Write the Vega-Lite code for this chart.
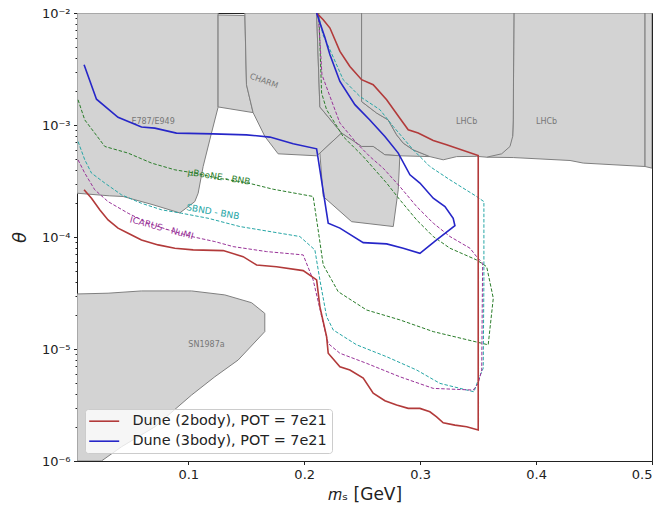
{
  "$schema": "https://vega.github.io/schema/vega-lite/v6.json",
  "autosize": "none",
  "width": 575,
  "height": 448,
  "padding": {"left": 77, "top": 13, "right": 12, "bottom": 46},
  "background": "white",
  "config": {
    "font": "DejaVu Sans",
    "view": {"stroke": "#222", "strokeWidth": 1},
    "axis": {"grid": false, "domainColor": "#222", "tickColor": "#222", "labelColor": "#222", "titleColor": "#222", "labelFont": "DejaVu Sans", "titleFont": "DejaVu Sans", "titleFontWeight": "normal", "labelFontSize": 13, "tickSize": 3.5, "labelPadding": 3.5}
  },
  "datasets": {
    "regions": [
      {"g":"E787","i":0,"x":0.004,"y":0.01},{"g":"E787","i":1,"x":0.1257,"y":0.01},{"g":"E787","i":2,"x":0.1257,"y":0.00144},{"g":"E787","i":3,"x":0.12,"y":0.000847},{"g":"E787","i":4,"x":0.1128,"y":0.000426},{"g":"E787","i":5,"x":0.1085,"y":0.000246},{"g":"E787","i":6,"x":0.1056,"y":0.000207},{"g":"E787","i":7,"x":0.0927,"y":0.000164},{"g":"E787","i":8,"x":0.0696,"y":0.000194},{"g":"E787","i":9,"x":0.0438,"y":0.00023},{"g":"E787","i":10,"x":0.0323,"y":0.000233},{"g":"E787","i":11,"x":0.004,"y":0.000246},{"g":"E787","i":12,"x":0.004,"y":0.01},
      {"g":"CH1","i":0,"x":0.1257,"y":0.0096},{"g":"CH1","i":1,"x":0.1488,"y":0.0095},{"g":"CH1","i":2,"x":0.1502,"y":0.00229},{"g":"CH1","i":3,"x":0.1559,"y":0.00129},{"g":"CH1","i":4,"x":0.1257,"y":0.00145},{"g":"CH1","i":5,"x":0.1257,"y":0.0096},
      {"g":"CH2","i":0,"x":0.1488,"y":0.01},{"g":"CH2","i":1,"x":0.2107,"y":0.01},{"g":"CH2","i":2,"x":0.2135,"y":0.00145},{"g":"CH2","i":3,"x":0.2322,"y":0.000847},{"g":"CH2","i":4,"x":0.2135,"y":0.000561},{"g":"CH2","i":5,"x":0.2107,"y":0.000531},{"g":"CH2","i":6,"x":0.1775,"y":0.000553},{"g":"CH2","i":7,"x":0.1661,"y":0.000789},{"g":"CH2","i":8,"x":0.1559,"y":0.00129},{"g":"CH2","i":9,"x":0.1502,"y":0.00229},{"g":"CH2","i":10,"x":0.1488,"y":0.01},
      {"g":"LH2","i":0,"x":0.3809,"y":0.01},{"g":"LH2","i":1,"x":0.494,"y":0.01},{"g":"LH2","i":2,"x":0.494,"y":0.000426},{"g":"LH2","i":3,"x":0.4407,"y":0.000457},{"g":"LH2","i":4,"x":0.4293,"y":0.000482},{"g":"LH2","i":5,"x":0.3803,"y":0.000512},{"g":"LH2","i":6,"x":0.3574,"y":0.000516},{"g":"LH2","i":7,"x":0.3574,"y":0.0007},{"g":"LH2","i":8,"x":0.3798,"y":0.000789},{"g":"LH2","i":9,"x":0.3803,"y":0.00111},{"g":"LH2","i":10,"x":0.3809,"y":0.01},
      {"g":"Q","i":0,"x":0.2107,"y":0.01},{"g":"Q","i":1,"x":0.2495,"y":0.01},{"g":"Q","i":2,"x":0.2495,"y":0.00162},{"g":"Q","i":3,"x":0.2624,"y":0.00128},{"g":"Q","i":4,"x":0.2724,"y":0.00111},{"g":"Q","i":5,"x":0.2797,"y":0.000817},{"g":"Q","i":6,"x":0.2854,"y":0.000689},{"g":"Q","i":7,"x":0.294,"y":0.0006},{"g":"Q","i":8,"x":0.3084,"y":0.000522},{"g":"Q","i":9,"x":0.2825,"y":0.000531},{"g":"Q","i":10,"x":0.2696,"y":0.000542},{"g":"Q","i":11,"x":0.2595,"y":0.000643},{"g":"Q","i":12,"x":0.2495,"y":0.000643},{"g":"Q","i":13,"x":0.2322,"y":0.000847},{"g":"Q","i":14,"x":0.2135,"y":0.00145},{"g":"Q","i":15,"x":0.2107,"y":0.01},
      {"g":"LH1","i":0,"x":0.2495,"y":0.01},{"g":"LH1","i":1,"x":0.3809,"y":0.01},{"g":"LH1","i":2,"x":0.3803,"y":0.00111},{"g":"LH1","i":3,"x":0.3798,"y":0.000789},{"g":"LH1","i":4,"x":0.3775,"y":0.000643},{"g":"LH1","i":5,"x":0.3703,"y":0.000553},{"g":"LH1","i":6,"x":0.3574,"y":0.000516},{"g":"LH1","i":7,"x":0.3487,"y":0.000525},{"g":"LH1","i":8,"x":0.3315,"y":0.000522},{"g":"LH1","i":9,"x":0.3199,"y":0.000489},{"g":"LH1","i":10,"x":0.3084,"y":0.000522},{"g":"LH1","i":11,"x":0.294,"y":0.0006},{"g":"LH1","i":12,"x":0.2854,"y":0.000689},{"g":"LH1","i":13,"x":0.2797,"y":0.000817},{"g":"LH1","i":14,"x":0.2724,"y":0.00111},{"g":"LH1","i":15,"x":0.2624,"y":0.00128},{"g":"LH1","i":16,"x":0.2495,"y":0.00162},{"g":"LH1","i":17,"x":0.2495,"y":0.01},
      {"g":"MID","i":0,"x":0.2135,"y":0.000561},{"g":"MID","i":1,"x":0.2322,"y":0.000847},{"g":"MID","i":2,"x":0.2495,"y":0.000643},{"g":"MID","i":3,"x":0.2595,"y":0.000643},{"g":"MID","i":4,"x":0.2696,"y":0.000542},{"g":"MID","i":5,"x":0.2825,"y":0.000531},{"g":"MID","i":6,"x":0.2811,"y":0.000264},{"g":"MID","i":7,"x":0.2768,"y":0.000124},{"g":"MID","i":8,"x":0.2409,"y":0.000137},{"g":"MID","i":9,"x":0.2164,"y":0.00023},{"g":"MID","i":10,"x":0.2135,"y":0.000561},
      {"g":"R","i":0,"x":0.494,"y":0.01},{"g":"R","i":1,"x":0.5,"y":0.01},{"g":"R","i":2,"x":0.5,"y":0.000412},{"g":"R","i":3,"x":0.494,"y":0.000426},{"g":"R","i":4,"x":0.494,"y":0.01},
      {"g":"SN","i":0,"x":0.004,"y":0.000031},{"g":"SN","i":1,"x":0.0308,"y":0.0000315},{"g":"SN","i":2,"x":0.0596,"y":0.000033},{"g":"SN","i":3,"x":0.1028,"y":0.000033},{"g":"SN","i":4,"x":0.1315,"y":0.0000304},{"g":"SN","i":5,"x":0.1546,"y":0.0000259},{"g":"SN","i":6,"x":0.166,"y":0.0000208},{"g":"SN","i":7,"x":0.166,"y":0.0000143},{"g":"SN","i":8,"x":0.143,"y":0.00000797},{"g":"SN","i":9,"x":0.1229,"y":0.00000565},{"g":"SN","i":10,"x":0.1028,"y":0.00000388},{"g":"SN","i":11,"x":0.0711,"y":0.00000202},{"g":"SN","i":12,"x":0.0424,"y":0.00000134},{"g":"SN","i":13,"x":0.0251,"y":0.000001},{"g":"SN","i":14,"x":0.004,"y":0.000001},{"g":"SN","i":15,"x":0.004,"y":0.000031}
    ],
    "dune": [
      {"s":"Dune (2body), POT = 7e21","i":0,"x":0.0101,"y":0.000264},{"s":"Dune (2body), POT = 7e21","i":1,"x":0.0165,"y":0.000222},{"s":"Dune (2body), POT = 7e21","i":2,"x":0.0236,"y":0.000175},{"s":"Dune (2body), POT = 7e21","i":3,"x":0.0308,"y":0.000142},{"s":"Dune (2body), POT = 7e21","i":4,"x":0.0394,"y":0.00012},{"s":"Dune (2body), POT = 7e21","i":5,"x":0.0481,"y":0.000108},{"s":"Dune (2body), POT = 7e21","i":6,"x":0.0596,"y":0.0000942},{"s":"Dune (2body), POT = 7e21","i":7,"x":0.074,"y":0.000085},{"s":"Dune (2body), POT = 7e21","i":8,"x":0.0884,"y":0.0000794},{"s":"Dune (2body), POT = 7e21","i":9,"x":0.1042,"y":0.0000767},{"s":"Dune (2body), POT = 7e21","i":10,"x":0.1301,"y":0.0000756},{"s":"Dune (2body), POT = 7e21","i":11,"x":0.1473,"y":0.0000668},{"s":"Dune (2body), POT = 7e21","i":12,"x":0.1589,"y":0.0000563},{"s":"Dune (2body), POT = 7e21","i":13,"x":0.1761,"y":0.0000543},{"s":"Dune (2body), POT = 7e21","i":14,"x":0.1991,"y":0.0000501},{"s":"Dune (2body), POT = 7e21","i":15,"x":0.2107,"y":0.0000414},{"s":"Dune (2body), POT = 7e21","i":16,"x":0.2135,"y":0.0000239},{"s":"Dune (2body), POT = 7e21","i":17,"x":0.2193,"y":0.0000129},{"s":"Dune (2body), POT = 7e21","i":18,"x":0.2207,"y":0.00000916},{"s":"Dune (2body), POT = 7e21","i":19,"x":0.2308,"y":0.00000695},{"s":"Dune (2body), POT = 7e21","i":20,"x":0.2394,"y":0.00000649},{"s":"Dune (2body), POT = 7e21","i":21,"x":0.2509,"y":0.00000551},{"s":"Dune (2body), POT = 7e21","i":22,"x":0.2595,"y":0.00000404},{"s":"Dune (2body), POT = 7e21","i":23,"x":0.2696,"y":0.00000345},{"s":"Dune (2body), POT = 7e21","i":24,"x":0.2797,"y":0.00000316},{"s":"Dune (2body), POT = 7e21","i":25,"x":0.2897,"y":0.00000295},{"s":"Dune (2body), POT = 7e21","i":26,"x":0.2998,"y":0.00000295},{"s":"Dune (2body), POT = 7e21","i":27,"x":0.3084,"y":0.00000275},{"s":"Dune (2body), POT = 7e21","i":28,"x":0.3142,"y":0.00000248},{"s":"Dune (2body), POT = 7e21","i":29,"x":0.3199,"y":0.00000219},{"s":"Dune (2body), POT = 7e21","i":30,"x":0.33,"y":0.00000209},{"s":"Dune (2body), POT = 7e21","i":31,"x":0.3401,"y":0.00000202},{"s":"Dune (2body), POT = 7e21","i":32,"x":0.3501,"y":0.00000189},{"s":"Dune (2body), POT = 7e21","i":33,"x":0.3501,"y":0.000534},{"s":"Dune (2body), POT = 7e21","i":34,"x":0.3228,"y":0.000665},{"s":"Dune (2body), POT = 7e21","i":35,"x":0.3113,"y":0.000727},{"s":"Dune (2body), POT = 7e21","i":36,"x":0.2983,"y":0.000847},{"s":"Dune (2body), POT = 7e21","i":37,"x":0.2897,"y":0.000906},{"s":"Dune (2body), POT = 7e21","i":38,"x":0.2825,"y":0.00115},{"s":"Dune (2body), POT = 7e21","i":39,"x":0.2711,"y":0.00168},{"s":"Dune (2body), POT = 7e21","i":40,"x":0.2595,"y":0.00229},{"s":"Dune (2body), POT = 7e21","i":41,"x":0.2495,"y":0.00254},{"s":"Dune (2body), POT = 7e21","i":42,"x":0.2394,"y":0.00333},{"s":"Dune (2body), POT = 7e21","i":43,"x":0.2308,"y":0.00454},{"s":"Dune (2body), POT = 7e21","i":44,"x":0.2222,"y":0.00734},{"s":"Dune (2body), POT = 7e21","i":45,"x":0.2164,"y":0.00871},{"s":"Dune (2body), POT = 7e21","i":46,"x":0.2107,"y":0.01},
      {"s":"Dune (3body), POT = 7e21","i":0,"x":0.0101,"y":0.00345},{"s":"Dune (3body), POT = 7e21","i":1,"x":0.0208,"y":0.0017},{"s":"Dune (3body), POT = 7e21","i":2,"x":0.0394,"y":0.00117},{"s":"Dune (3body), POT = 7e21","i":3,"x":0.0596,"y":0.000958},{"s":"Dune (3body), POT = 7e21","i":4,"x":0.0711,"y":0.000938},{"s":"Dune (3body), POT = 7e21","i":5,"x":0.0898,"y":0.000847},{"s":"Dune (3body), POT = 7e21","i":6,"x":0.1214,"y":0.000834},{"s":"Dune (3body), POT = 7e21","i":7,"x":0.1502,"y":0.000817},{"s":"Dune (3body), POT = 7e21","i":8,"x":0.1704,"y":0.00078},{"s":"Dune (3body), POT = 7e21","i":9,"x":0.1905,"y":0.000679},{"s":"Dune (3body), POT = 7e21","i":10,"x":0.2107,"y":0.000613},{"s":"Dune (3body), POT = 7e21","i":11,"x":0.2207,"y":0.000133},{"s":"Dune (3body), POT = 7e21","i":12,"x":0.2308,"y":0.00012},{"s":"Dune (3body), POT = 7e21","i":13,"x":0.2509,"y":0.0000891},{"s":"Dune (3body), POT = 7e21","i":14,"x":0.2711,"y":0.0000868},{"s":"Dune (3body), POT = 7e21","i":15,"x":0.2854,"y":0.0000794},{"s":"Dune (3body), POT = 7e21","i":16,"x":0.2998,"y":0.0000716},{"s":"Dune (3body), POT = 7e21","i":17,"x":0.3142,"y":0.0000942},{"s":"Dune (3body), POT = 7e21","i":18,"x":0.33,"y":0.000126},{"s":"Dune (3body), POT = 7e21","i":19,"x":0.3285,"y":0.000147},{"s":"Dune (3body), POT = 7e21","i":20,"x":0.3214,"y":0.000187},{"s":"Dune (3body), POT = 7e21","i":21,"x":0.3113,"y":0.000222},{"s":"Dune (3body), POT = 7e21","i":22,"x":0.2998,"y":0.000303},{"s":"Dune (3body), POT = 7e21","i":23,"x":0.2912,"y":0.000359},{"s":"Dune (3body), POT = 7e21","i":24,"x":0.2811,"y":0.000561},{"s":"Dune (3body), POT = 7e21","i":25,"x":0.2696,"y":0.000789},{"s":"Dune (3body), POT = 7e21","i":26,"x":0.2566,"y":0.00111},{"s":"Dune (3body), POT = 7e21","i":27,"x":0.2437,"y":0.00152},{"s":"Dune (3body), POT = 7e21","i":28,"x":0.2308,"y":0.00245},{"s":"Dune (3body), POT = 7e21","i":29,"x":0.2222,"y":0.00424},{"s":"Dune (3body), POT = 7e21","i":30,"x":0.2179,"y":0.00601},{"s":"Dune (3body), POT = 7e21","i":31,"x":0.2107,"y":0.01}
    ],
    "ub": [
      {"i":0,"x":0.0049,"y":0.00168},{"i":1,"x":0.0107,"y":0.00111},{"i":2,"x":0.0193,"y":0.000847},{"i":3,"x":0.028,"y":0.000643},{"i":4,"x":0.0481,"y":0.000561},{"i":5,"x":0.0683,"y":0.000457},{"i":6,"x":0.0884,"y":0.000398},{"i":7,"x":0.1056,"y":0.000372},{"i":8,"x":0.1257,"y":0.000335},{"i":9,"x":0.1502,"y":0.000306},{"i":10,"x":0.1732,"y":0.000267},{"i":11,"x":0.2077,"y":0.00023},{"i":12,"x":0.212,"y":0.000116},{"i":13,"x":0.2164,"y":0.0000563},{"i":14,"x":0.2293,"y":0.0000325},{"i":15,"x":0.2538,"y":0.0000223},{"i":16,"x":0.2825,"y":0.0000182},{"i":17,"x":0.3113,"y":0.0000143},{"i":18,"x":0.3587,"y":0.0000109},{"i":19,"x":0.3631,"y":0.0000284},{"i":20,"x":0.3574,"y":0.0000543},{"i":21,"x":0.3487,"y":0.0000624},{"i":22,"x":0.3257,"y":0.0000794},{"i":23,"x":0.3113,"y":0.000101},{"i":24,"x":0.297,"y":0.000142},{"i":25,"x":0.2825,"y":0.000215},{"i":26,"x":0.2711,"y":0.000303},{"i":27,"x":0.2509,"y":0.000523},{"i":28,"x":0.2336,"y":0.000789},{"i":29,"x":0.2193,"y":0.00137},{"i":30,"x":0.215,"y":0.00193},{"i":31,"x":0.2126,"y":0.01}
    ],
    "sbnd": [
      {"i":0,"x":0.0049,"y":0.000712},{"i":1,"x":0.0107,"y":0.000489},{"i":2,"x":0.0165,"y":0.000372},{"i":3,"x":0.028,"y":0.000303},{"i":4,"x":0.0424,"y":0.000238},{"i":5,"x":0.0596,"y":0.0002},{"i":6,"x":0.0769,"y":0.000175},{"i":7,"x":0.0942,"y":0.000163},{"i":8,"x":0.1171,"y":0.000147},{"i":9,"x":0.1445,"y":0.000124},{"i":10,"x":0.1962,"y":0.000101},{"i":11,"x":0.2092,"y":0.0000767},{"i":12,"x":0.2135,"y":0.0000414},{"i":13,"x":0.2193,"y":0.0000195},{"i":14,"x":0.225,"y":0.0000148},{"i":15,"x":0.2452,"y":0.0000109},{"i":16,"x":0.2711,"y":0.00000853},{"i":17,"x":0.297,"y":0.00000649},{"i":18,"x":0.3171,"y":0.00000493},{"i":19,"x":0.3464,"y":0.00000415},{"i":20,"x":0.3501,"y":0.00000528},{"i":21,"x":0.3544,"y":0.00000673},{"i":22,"x":0.355,"y":0.0000414},{"i":23,"x":0.355,"y":0.000207},{"i":24,"x":0.3487,"y":0.00023},{"i":25,"x":0.3257,"y":0.000324},{"i":26,"x":0.3084,"y":0.000426},{"i":27,"x":0.294,"y":0.0006},{"i":28,"x":0.2768,"y":0.00097},{"i":29,"x":0.2653,"y":0.00137},{"i":30,"x":0.248,"y":0.0018},{"i":31,"x":0.2336,"y":0.00254},{"i":32,"x":0.2222,"y":0.0047},{"i":33,"x":0.2161,"y":0.0064},{"i":34,"x":0.212,"y":0.01}
    ],
    "icarus": [
      {"i":0,"x":0.0049,"y":0.000489},{"i":1,"x":0.0107,"y":0.000372},{"i":2,"x":0.0193,"y":0.000264},{"i":3,"x":0.0308,"y":0.000207},{"i":4,"x":0.0481,"y":0.000163},{"i":5,"x":0.0653,"y":0.000133},{"i":6,"x":0.0826,"y":0.000116},{"i":7,"x":0.1028,"y":0.000101},{"i":8,"x":0.1229,"y":0.000091},{"i":9,"x":0.1387,"y":0.0000821},{"i":10,"x":0.1675,"y":0.0000741},{"i":11,"x":0.1991,"y":0.0000692},{"i":12,"x":0.2077,"y":0.0000414},{"i":13,"x":0.2164,"y":0.000017},{"i":14,"x":0.2207,"y":0.0000112},{"i":15,"x":0.2308,"y":0.00000916},{"i":16,"x":0.2538,"y":0.00000745},{"i":17,"x":0.2825,"y":0.00000565},{"i":18,"x":0.3113,"y":0.00000445},{"i":19,"x":0.3458,"y":0.0000043},{"i":20,"x":0.3501,"y":0.00000493},{"i":21,"x":0.3531,"y":0.00000649},{"i":22,"x":0.3539,"y":0.0000583},{"i":23,"x":0.3487,"y":0.0000668},{"i":24,"x":0.343,"y":0.0000794},{"i":25,"x":0.3257,"y":0.000101},{"i":26,"x":0.3113,"y":0.000133},{"i":27,"x":0.297,"y":0.000187},{"i":28,"x":0.2825,"y":0.000282},{"i":29,"x":0.2681,"y":0.000412},{"i":30,"x":0.2566,"y":0.000523},{"i":31,"x":0.2452,"y":0.000689},{"i":32,"x":0.2308,"y":0.00104},{"i":33,"x":0.2222,"y":0.0018},{"i":34,"x":0.2153,"y":0.00281},{"i":35,"x":0.2135,"y":0.00577},{"i":36,"x":0.212,"y":0.01}
    ]
  },
  "layer": [
    {
      "data": {"name": "regions"},
      "mark": {"type": "line", "fill": "#d3d3d3", "stroke": "#7f7f7f", "strokeWidth": 1, "clip": true},
      "encoding": {
        "x": {"field": "x", "type": "quantitative", "scale": {"domain": [0.004, 0.5], "nice": false, "zero": false},
          "axis": {"values": [0.1, 0.2, 0.3, 0.4, 0.5], "format": ".1f", "title": "𝑚ₛ [GeV]", "titleFontSize": 17, "titlePadding": 5}},
        "y": {"field": "y", "type": "quantitative", "scale": {"type": "log", "domain": [0.000001, 0.01], "nice": false},
          "axis": {
            "values": [0.000001,0.000002,0.000003,0.000004,0.000005,0.000006,0.000007,0.000008,0.000009,0.00001,0.00002,0.00003,0.00004,0.00005,0.00006,0.00007,0.00008,0.00009,0.0001,0.0002,0.0003,0.0004,0.0005,0.0006,0.0007,0.0008,0.0009,0.001,0.002,0.003,0.004,0.005,0.006,0.007,0.008,0.009,0.01],
            "labelExpr": "abs(log(datum.value)/LN10 - round(log(datum.value)/LN10)) > 0.01 ? '' : datum.value > 0.005 ? '10⁻²' : datum.value > 0.0005 ? '10⁻³' : datum.value > 0.00005 ? '10⁻⁴' : datum.value > 0.000005 ? '10⁻⁵' : '10⁻⁶'",
            "tickSize": {"condition": {"test": "abs(log(datum.value)/LN10 - round(log(datum.value)/LN10)) < 0.01", "value": 3.5}, "value": 2},
            "labelPadding": {"condition": {"test": "abs(log(datum.value)/LN10 - round(log(datum.value)/LN10)) < 0.01", "value": 3.5}, "value": 5},
            "labelOverlap": false,
            "title": "θ", "titleFontSize": 18, "titleFontStyle": "italic", "titlePadding": 12}},
        "detail": {"field": "g"},
        "order": {"field": "i", "type": "quantitative"}
      }
    },
    {
      "data": {"values": [
        {"x": 0.0696, "y": 0.00107, "t": "E787/E949"},
        {"x": 0.3401, "y": 0.00107, "t": "LHCb"},
        {"x": 0.4091, "y": 0.00107, "t": "LHCb"},
        {"x": 0.1157, "y": 0.0000109, "t": "SN1987a"}
      ]},
      "mark": {"type": "text", "fontSize": 8, "color": "#777", "align": "center", "baseline": "middle"},
      "encoding": {"x": {"field": "x", "type": "quantitative"}, "y": {"field": "y", "type": "quantitative"}, "text": {"field": "t"}}
    },
    {
      "data": {"values": [{"x": 0.1652, "y": 0.00245, "t": "CHARM"}]},
      "mark": {"type": "text", "fontSize": 8, "color": "#777", "align": "center", "baseline": "middle", "angle": 20},
      "encoding": {"x": {"field": "x", "type": "quantitative"}, "y": {"field": "y", "type": "quantitative"}, "text": {"field": "t"}}
    },
    {
      "data": {"name": "ub"},
      "mark": {"type": "line", "stroke": "#2a7d2a", "strokeWidth": 1, "strokeDash": [3.5, 1.8], "clip": true},
      "encoding": {"x": {"field": "x", "type": "quantitative"}, "y": {"field": "y", "type": "quantitative"}, "order": {"field": "i", "type": "quantitative"}}
    },
    {
      "data": {"name": "sbnd"},
      "mark": {"type": "line", "stroke": "#26a6a6", "strokeWidth": 1, "strokeDash": [3.5, 1.8], "clip": true},
      "encoding": {"x": {"field": "x", "type": "quantitative"}, "y": {"field": "y", "type": "quantitative"}, "order": {"field": "i", "type": "quantitative"}}
    },
    {
      "data": {"name": "icarus"},
      "mark": {"type": "line", "stroke": "#993399", "strokeWidth": 1, "strokeDash": [3.5, 1.8], "clip": true},
      "encoding": {"x": {"field": "x", "type": "quantitative"}, "y": {"field": "y", "type": "quantitative"}, "order": {"field": "i", "type": "quantitative"}}
    },
    {
      "data": {"values": [{"x": 0.1264, "y": 0.000344, "t": "μBooNE - BNB"}]},
      "mark": {"type": "text", "fontSize": 9, "color": "#2a7d2a", "align": "center", "baseline": "middle", "angle": 9},
      "encoding": {"x": {"field": "x", "type": "quantitative"}, "y": {"field": "y", "type": "quantitative"}, "text": {"field": "t"}}
    },
    {
      "data": {"values": [{"x": 0.1212, "y": 0.000168, "t": "SBND - BNB"}]},
      "mark": {"type": "text", "fontSize": 9, "color": "#26a6a6", "align": "center", "baseline": "middle", "angle": 10},
      "encoding": {"x": {"field": "x", "type": "quantitative"}, "y": {"field": "y", "type": "quantitative"}, "text": {"field": "t"}}
    },
    {
      "data": {"values": [{"x": 0.0771, "y": 0.000121, "t": "ICARUS - NuMI"}]},
      "mark": {"type": "text", "fontSize": 9, "color": "#993399", "align": "center", "baseline": "middle", "angle": 15},
      "encoding": {"x": {"field": "x", "type": "quantitative"}, "y": {"field": "y", "type": "quantitative"}, "text": {"field": "t"}}
    },
    {
      "data": {"name": "dune"},
      "mark": {"type": "line", "strokeWidth": 1.6, "clip": true},
      "encoding": {
        "x": {"field": "x", "type": "quantitative"},
        "y": {"field": "y", "type": "quantitative"},
        "order": {"field": "i", "type": "quantitative"},
        "color": {"field": "s", "type": "nominal",
          "scale": {"domain": ["Dune (2body), POT = 7e21", "Dune (3body), POT = 7e21"], "range": ["#b23a3a", "#2626c8"]},
          "legend": {"title": null, "orient": "bottom-left", "offset": 8, "symbolType": "M-1.6,0H4.4", "symbolSize": 100, "symbolStrokeWidth": 1.6, "symbolFillColor": "transparent", "labelFontSize": 14.4, "labelFont": "DejaVu Sans", "labelColor": "#222", "labelOffset": 28, "labelLimit": 400, "rowPadding": 5, "padding": 5, "fillColor": "rgba(255,255,255,0.8)", "strokeColor": "#cccccc", "cornerRadius": 3}}
      }
    }
  ]
}
